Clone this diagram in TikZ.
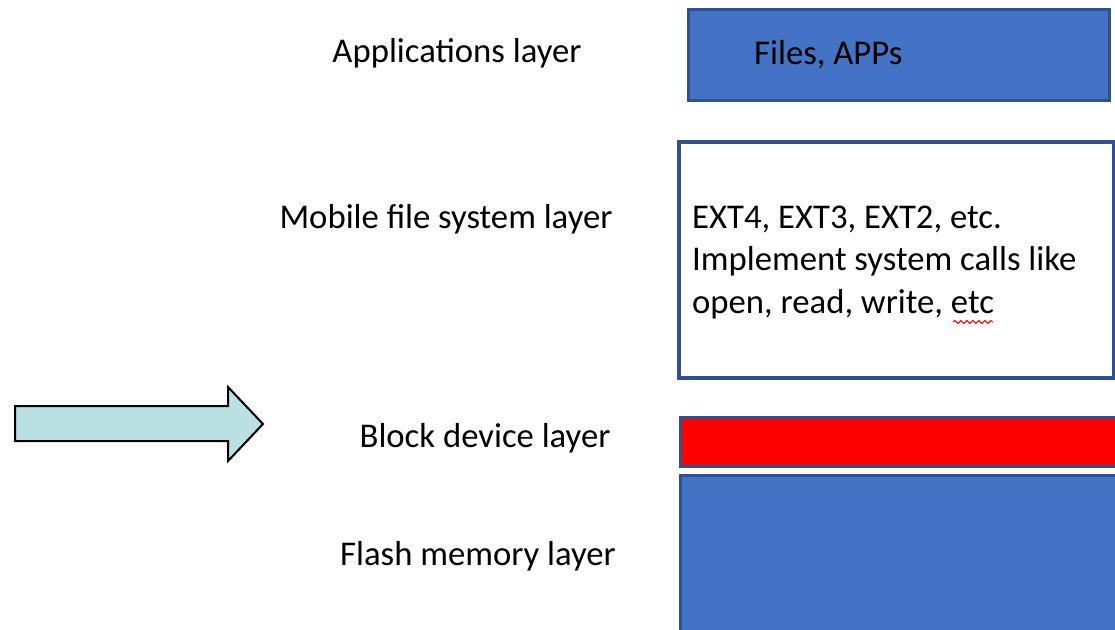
\documentclass[tikz,border=0pt]{standalone}
\usepackage{fontspec}
\setmainfont{Carlito}
\usetikzlibrary{decorations.pathmorphing}
\definecolor{layerblue}{HTML}{4472C4}
\definecolor{layeredge}{HTML}{2F528F}
\definecolor{arrowteal}{HTML}{BBE0E3}
\tikzset{
  layerbox/.style={draw=layeredge, line width=2.5pt, anchor=north west, inner sep=0pt},
  layername/.style={anchor=base}
}
\begin{document}
\begin{tikzpicture}[x=1pt,y=-1pt,font=\fontsize{34.7}{42.5}\selectfont]
			\useasboundingbox (0,0) rectangle (1115,629);
			\clip (0,0) rectangle (1115,629);
			
			% boxes on the right
			\node[layerbox, fill=layerblue, minimum width=421pt, minimum height=91pt] (appsbox) at (687,8) {};
			\node[layerbox, fill=white, line width=3.5pt, minimum width=435pt, minimum height=236pt] (fsbox) at (677,140) {};
			\node[layerbox, fill=red, minimum width=440pt, minimum height=49pt] (blockbox) at (679,416) {};
			\node[layerbox, fill=layerblue, line width=3pt, minimum width=440pt, minimum height=170pt] (flashbox) at (679,474) {};
			
			% layer names
			\foreach \n/\x/\y/\t in {apps/457/62/Applications layer, fs/446/228/Mobile file system layer, block/485/447/Block device layer, flash/478/565/Flash memory layer}
			{
				\node[layername] (\n) at (\x,\y) {\t};
			}
			
			\node[anchor=base west, inner sep=0pt] (appstext) at (754,64) {Files, APPs};
			\node[anchor=base west, inner sep=0pt, align=left] (fstext) at (692,313) {EXT4, EXT3, EXT2, etc.\\Implement system calls like\\open, read, write, etc};
			\draw[red, line width=1pt, decorate, decoration={snake, amplitude=1.5pt, segment length=6pt}] (953,322) -- (993,322);
			
			% the arrow
			\draw[line width=2pt, fill=arrowteal, line join=miter] (15,406) -- (228,406) -- (228,387) -- (263,424) -- (228,461) -- (228,441) -- (15,441) -- cycle;
			
		\end{tikzpicture}
\end{document}
